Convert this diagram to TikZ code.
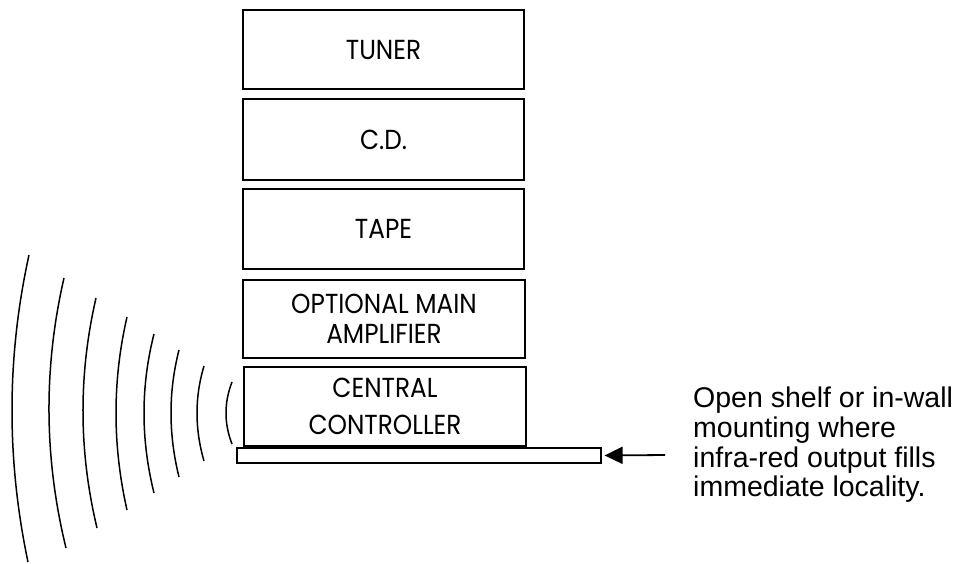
\documentclass[tikz,border=0pt]{standalone}
\usepackage{fontspec}
\setmainfont{Liberation Sans}
\newfontfamily\boxfont[FakeStretch=0.9]{Poppins}
\usetikzlibrary{arrows.meta,calc}
\begin{document}
\begin{tikzpicture}[x=1pt,y=-1pt,
  unitbox/.style={draw,line width=1.4pt,inner sep=0pt,align=center,
    font=\boxfont\fontsize{27.5}{30}\selectfont},
  wave/.style={line width=1.5pt},
  note/.style={inner sep=0pt,align=left,anchor=north west,
    font=\fontsize{28.5}{29.7}\selectfont}]
\useasboundingbox (0,0) rectangle (965,563);
\node[unitbox,minimum width=281pt,minimum height=79pt] (tuner) at (383.5,49.5) {TUNER};
\node[unitbox,minimum width=281pt,minimum height=81pt] (cd) at (383.5,139.5) {C.D.};
\node[unitbox,minimum width=281pt,minimum height=80pt] (tape) at (383.5,229) {TAPE};
\node[unitbox,minimum width=282pt,minimum height=78pt] (amp) at (384,319) {OPTIONAL MAIN\\AMPLIFIER};
\node[unitbox,minimum width=282pt,minimum height=79pt] (ctrl) at (385,406.5) {CENTRAL\\[7pt]CONTROLLER};
\node[draw,line width=1.2pt,inner sep=0pt,minimum width=364pt,minimum height=15pt] (shelf) at (419,455.5) {};
\node[note] (label) at (693,387) {Open shelf or in-wall\\mounting where\\infra-red output fills\\immediate locality.};
\coordinate (tail) at (665,455);
\draw[line width=1.8pt,-{Triangle[length=18pt,width=17pt]},shorten >=3pt] (tail) -- (shelf.east);
\foreach \xt/\yt/\xm/\ym/\xb/\yb in {29/255/12/408/28/562, 64/278/49/413/66/548, 96/298/83/413/97/528, 127/317/116/413/127/510, 154/334/144/413/154/493, 179/350/171/413/179/477, 204/366/197/413/204/461, 232/382/226/413/232/444}{
  \coordinate (q) at ({2*\xm-(\xt+\xb)/2},{2*\ym-(\yt+\yb)/2});
  \draw[wave] (\xt,\yt) .. controls ($(\xt,\yt)!2/3!(q)$) and ($(\xb,\yb)!2/3!(q)$) .. (\xb,\yb);
}
\end{tikzpicture}
\end{document}
